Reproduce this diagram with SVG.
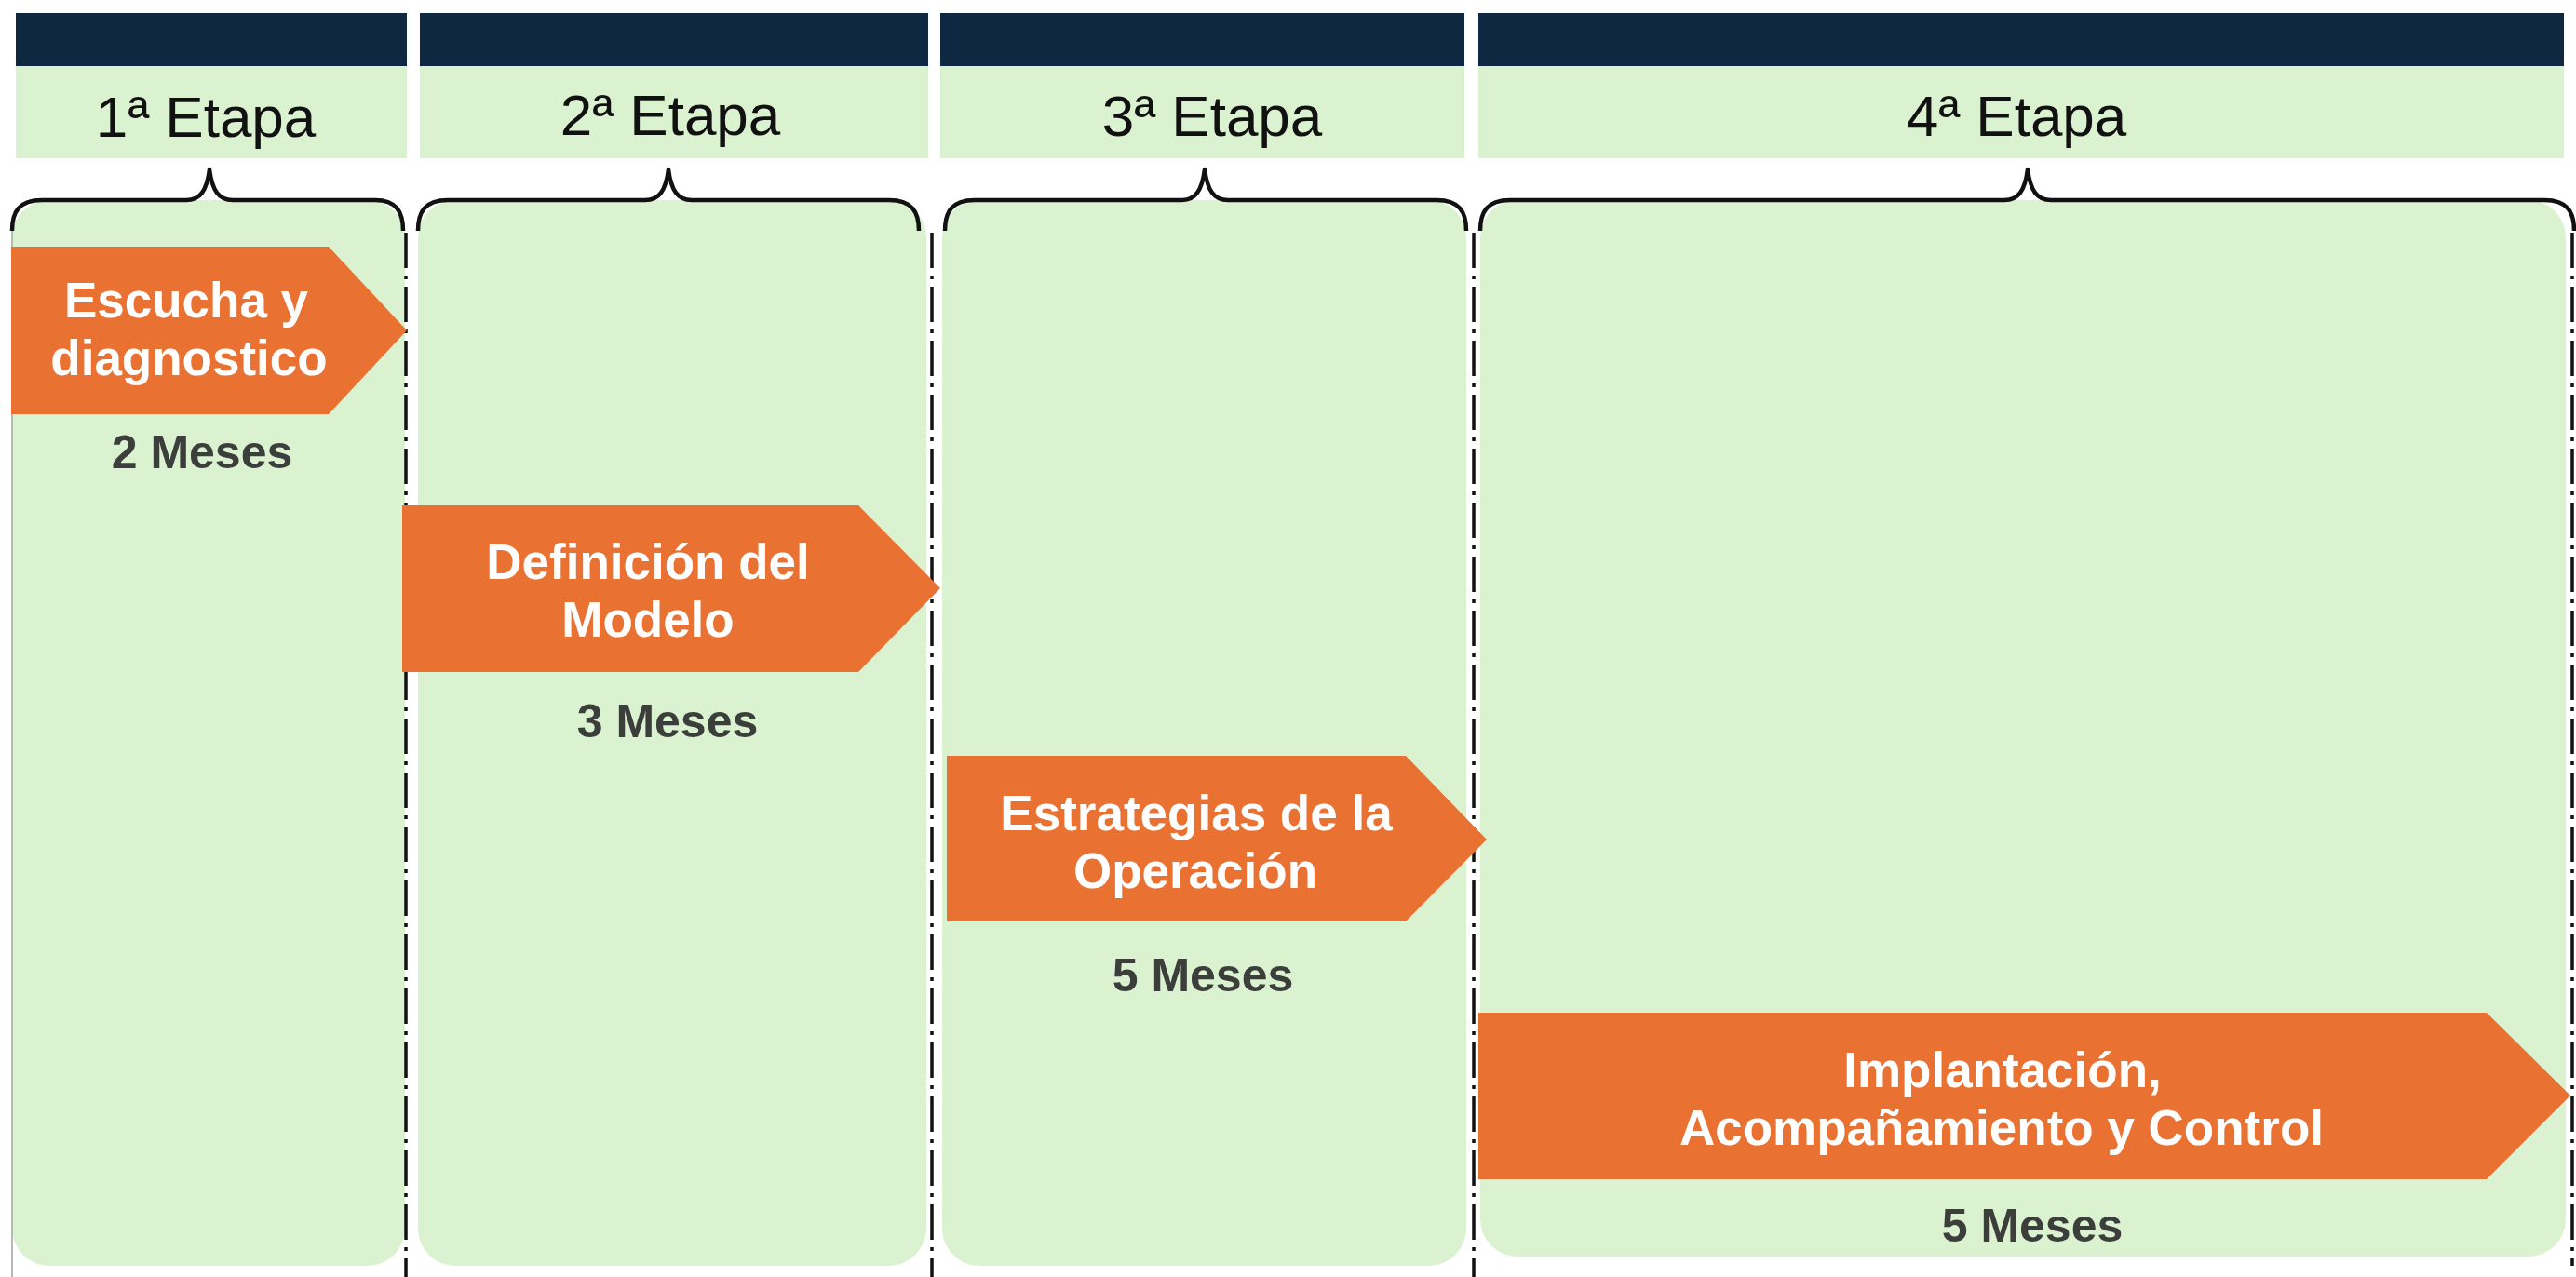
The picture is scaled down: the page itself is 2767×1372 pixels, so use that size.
<svg xmlns="http://www.w3.org/2000/svg" width="2767" height="1372" viewBox="0 0 2767 1372">
<style>
.bar{fill:#0E2841}
.band{fill:#DAF2D0}
.panel{fill:#DAF2D0}
.hdr{font-family:"Liberation Sans",Arial,sans-serif;font-size:62px;fill:#111;text-anchor:middle}
.arrow{fill:#E97132}
.atxt{font-family:"Liberation Sans",Arial,sans-serif;font-weight:bold;font-size:53px;fill:#fff;text-anchor:middle}
.dur{font-family:"Liberation Sans",Arial,sans-serif;font-weight:bold;font-size:50px;fill:#3b3e3b;text-anchor:middle}
.brace{fill:none;stroke:#111;stroke-width:4.5;stroke-linejoin:round}
.sep{fill:none;stroke:#111;stroke-width:3.5;stroke-dasharray:38 8 4 8}
</style>
<rect width="2767" height="1372" fill="#fff"/>
<g id="panels">
<rect class="panel" x="13" y="215" width="422" height="1145" rx="40"/>
<rect class="panel" x="449" y="215" width="546" height="1145" rx="40"/>
<rect class="panel" x="1012" y="215" width="563" height="1145" rx="40"/>
<rect class="panel" x="1590" y="215" width="1166" height="1135" rx="40"/>
</g>
<g id="headers">
<g id="etapa1"><rect class="bar" x="17" y="14" width="420" height="57"/><rect class="band" x="17" y="71" width="420" height="99"/><text class="hdr" x="221" y="147">1ª Etapa</text></g>
<g id="etapa2"><rect class="bar" x="451" y="14" width="546" height="57"/><rect class="band" x="451" y="71" width="546" height="99"/><text class="hdr" x="720" y="145">2ª Etapa</text></g>
<g id="etapa3"><rect class="bar" x="1010" y="14" width="563" height="57"/><rect class="band" x="1010" y="71" width="563" height="99"/><text class="hdr" x="1302" y="146">3ª Etapa</text></g>
<g id="etapa4"><rect class="bar" x="1588" y="14" width="1166" height="57"/><rect class="band" x="1588" y="71" width="1166" height="99"/><text class="hdr" x="2166" y="146">4ª Etapa</text></g>
</g>
<g id="connectors">
<path class="brace" d="M13,248 C13,228 20,215 45,215 L200,215 C215,215 222,205 225,182 C228,205 235,215 250,215 L403,215 C426,215 433,228 433,248"/>
<path class="brace" d="M449,248 C449,228 456,215 481,215 L693,215 C708,215 715,205 718,182 C721,205 728,215 743,215 L955,215 C980,215 987,228 987,248"/>
<path class="brace" d="M1015,248 C1015,228 1022,215 1047,215 L1269,215 C1284,215 1291,205 1294,182 C1297,205 1304,215 1319,215 L1543,215 C1568,215 1575,228 1575,248"/>
<path class="brace" d="M1590,248 C1590,228 1597,215 1622,215 L2153,215 C2168,215 2175,205 2178,182 C2181,205 2188,215 2203,215 L2733,215 C2758,215 2765,228 2765,248"/>
<line x1="13" y1="248" x2="13" y2="1372" stroke="#b8b8b8" stroke-width="2"/>
<line class="sep" x1="436" y1="250" x2="436" y2="1372"/>
<line class="sep" x1="1001" y1="250" x2="1001" y2="1372"/>
<line class="sep" x1="1583" y1="250" x2="1583" y2="1372"/>
<line class="sep" x1="2763" y1="250" x2="2763" y2="1360"/>
</g>
<g id="fase1">
<polygon class="arrow" points="12,265 353,265 437,355 353,445 12,445"/>
<text class="atxt" x="200" y="341">Escucha y</text>
<text class="atxt" x="203" y="403">diagnostico</text>
<text class="dur" x="217" y="503">2 Meses</text>
</g>
<g id="fase2">
<polygon class="arrow" points="432,543 922,543 1010,632 922,722 432,722"/>
<text class="atxt" x="696" y="622">Definición del</text>
<text class="atxt" x="696" y="684">Modelo</text>
<text class="dur" x="717" y="792">3 Meses</text>
</g>
<g id="fase3">
<polygon class="arrow" points="1017,812 1510,812 1597,902 1510,990 1017,990"/>
<text class="atxt" x="1285" y="892">Estrategias de la</text>
<text class="atxt" x="1284" y="954">Operación</text>
<text class="dur" x="1292" y="1065">5 Meses</text>
</g>
<g id="fase4">
<polygon class="arrow" points="1588,1088 2671,1088 2761,1177 2671,1267 1588,1267"/>
<text class="atxt" x="2151" y="1168">Implantación,</text>
<text class="atxt" x="2150" y="1230">Acompañamiento y Control</text>
<text class="dur" x="2183" y="1334">5 Meses</text>
</g>
</svg>
